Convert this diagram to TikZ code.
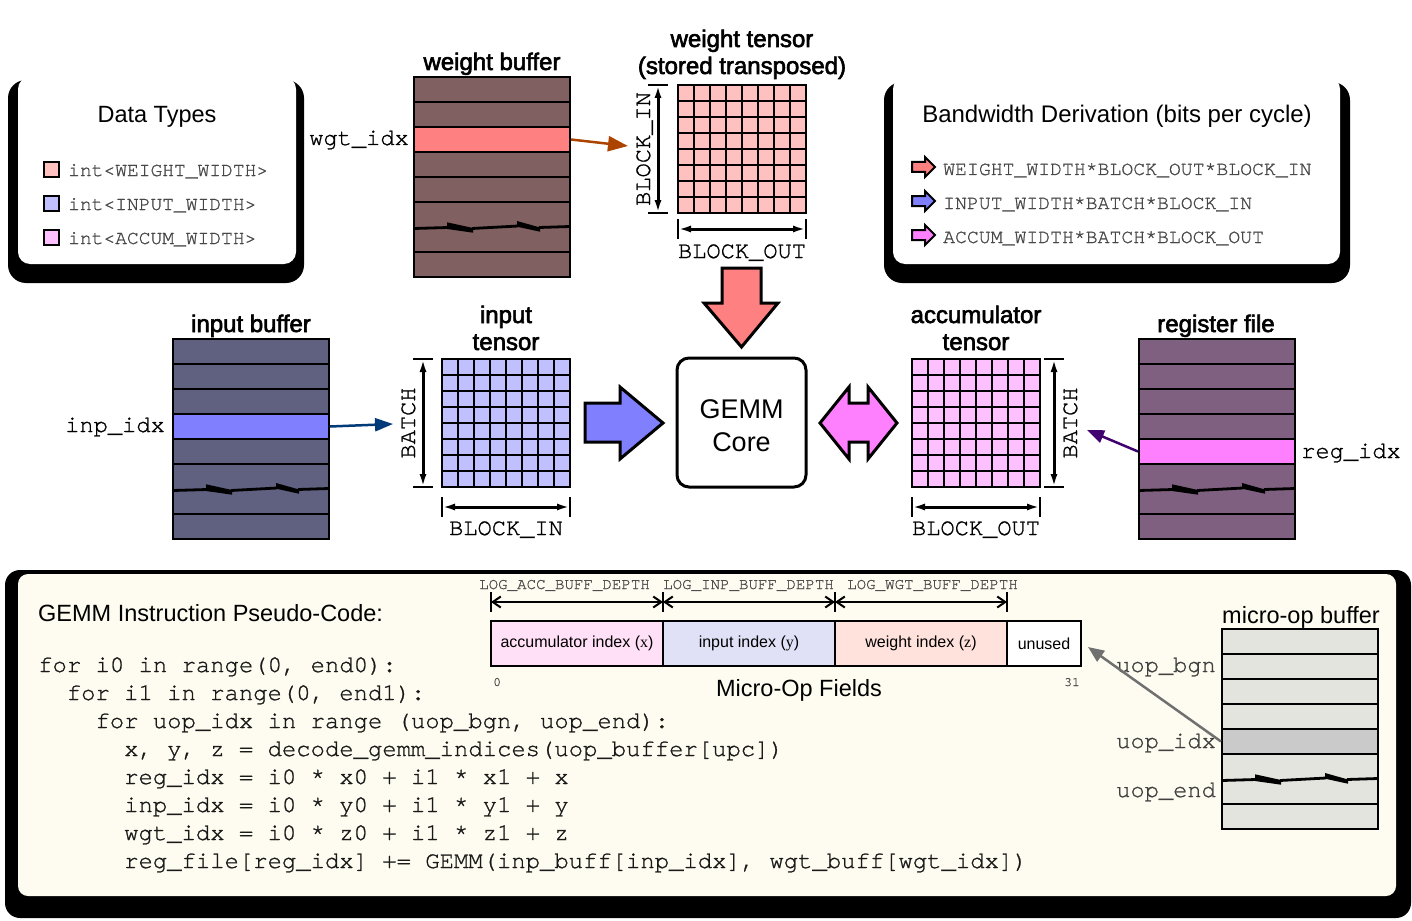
\documentclass[tikz,border=0pt]{standalone}
\usepackage{fontspec}
\setmainfont{Liberation Sans}
\newfontfamily\monofont[Ligatures=NoCommon, Kerning=Off, FakeBold=1]{TeX Gyre Cursor}
\newfontfamily\headfont[FakeBold=2.5]{Liberation Sans}
\newfontfamily\seriffont{Liberation Serif}
\usetikzlibrary{arrows.meta}

% buffer bodies and their selected rows
\definecolor{wbuf}{RGB}{128,96,96}
\definecolor{ibuf}{RGB}{96,96,128}
\definecolor{rbuf}{RGB}{128,96,128}
\definecolor{ubuf}{RGB}{228,228,222}
\definecolor{whl}{RGB}{255,128,128}
\definecolor{ihl}{RGB}{128,128,255}
\definecolor{rhl}{RGB}{255,128,255}
\definecolor{uhl}{RGB}{202,202,202}
% tensor cells
\definecolor{wcell}{RGB}{255,192,192}
\definecolor{icell}{RGB}{192,192,255}
\definecolor{acell}{RGB}{255,192,255}
% feed arrows
\definecolor{wfeed}{RGB}{172,68,0}
\definecolor{ifeed}{RGB}{0,58,120}
\definecolor{rfeed}{RGB}{64,0,112}
\definecolor{ufeed}{RGB}{112,112,112}
% panels and micro-op fields
\definecolor{cream}{RGB}{254,252,240}
\definecolor{faccf}{RGB}{255,224,246}
\definecolor{finpf}{RGB}{224,224,246}
\definecolor{fwgtf}{RGB}{255,226,220}

\tikzset{
  bufrow/.style={draw, line width=2, minimum width=156, minimum height=25, inner sep=0},
  rowline/.style={line width=2},
  bufedge/.style={line width=2.5},
  tensorbox/.style={minimum size=128, inner sep=0},
  gridline/.style={line width=2},
  dimline/.style={line width=3, {Latex[length=13pt,width=7pt]}-{Latex[length=13pt,width=7pt]}},
  dimcap/.style={line width=2},
  feed/.style={line width=2.5, -{Triangle[length=20pt,width=15pt]}},
  fatarrow/.style={draw=black, line width=3, line join=miter},
  smallarrow/.style={draw=black, line width=2, line join=miter},
  swatch/.style={draw, line width=2, minimum size=15, inner sep=0},
  boxtitle/.style={font=\fontsize{23.5}{28}\selectfont, inner sep=0},
  headlabel/.style={font=\headfont\fontsize{24}{28}\selectfont, inner sep=0, anchor=base},
  monolabel/.style={font=\monofont\fontsize{23.7}{28}\selectfont, inner sep=0},
  typeline/.style={font=\monofont\fontsize{19.6}{24}\selectfont, text=black!72, anchor=base west, inner sep=0},
  codeline/.style={font=\monofont\fontsize{23.9}{28}\selectfont, text=black!90, anchor=base west, inner sep=0},
  fieldbox/.style={draw, line width=2, minimum height=45, inner sep=0, font=\fontsize{16}{19}\selectfont},
  fieldspan/.style={line width=2, {Straight Barb[length=8pt,width=11pt]}-{Straight Barb[length=8pt,width=11pt]}},
  fieldtick/.style={line width=1.5},
  fieldname/.style={font=\monofont\fontsize{15.8}{18}\selectfont, text=black!70, anchor=base west, inner sep=0},
}

% torn-row mark across a buffer: #1 left x, #2 row boundary y
\newcommand\bufbreak[2]{%
  \begin{scope}[shift={(#1,#2)}]
    \draw[line width=2.8] (0,1.5) -- (34,0.5);
    \fill (33,-4.7) -- (59,1.0) -- (59,5.7) -- (33,2.0) -- cycle;
    \draw[line width=2.8] (58,1.5) -- (104,-1);
    \fill (103,-6.0) -- (126,0.5) -- (126,4.7) -- (103,-0.3) -- cycle;
    \draw[line width=2.8] (125,0.5) -- (156,-0.5);
  \end{scope}}

% eight-row buffer: name, left x, top y, body colour, selected row, selected colour
\newcommand\membuf[6]{%
  \fill[#4] (#2,#3) rectangle ++(156,200);
  \node[bufrow, fill=#6] (#1) at ({#2+78},{#3+25*#5+12.5}) {};
  \foreach \k in {1,2,3,4,5,7} {\draw[rowline] (#2,{#3+25*\k}) -- ++(156,0);}
  \bufbreak{#2}{#3+150}
  \draw[bufedge] (#2,#3) rectangle ++(156,200);
}

% 8x8 tensor tile: name, left x, top y, cell colour
\newcommand\tensorgrid[4]{%
  \node[tensorbox, fill=#4] (#1) at ({#2+64},{#3+64}) {};
  \foreach \k in {1,...,7} {
    \draw[gridline] ({#2+16*\k},#3) -- ++(0,128);
    \draw[gridline] (#2,{#3+16*\k}) -- ++(128,0);}
  \draw[gridline] (#2,#3) rectangle ++(128,128);
}

% legend arrow: left x, centre y, colour
\newcommand\bwarrow[3]{%
  \filldraw[smallarrow, fill=#3] (#1,#2-5) -- (#1+13,#2-5) -- (#1+13,#2-10) -- (#1+23,#2)
    -- (#1+13,#2+10) -- (#1+13,#2+5) -- (#1,#2+5) -- cycle;}

\begin{document}
\begin{tikzpicture}[x=1pt,y=-1pt]
\useasboundingbox (0,0) rectangle (1412,920);

% ---------- panels ----------
\fill[black, rounded corners=18] (8,80) rectangle (304,283);
\fill[white, rounded corners=12] (18,77) rectangle (296,264);
\fill[black, rounded corners=18] (884,82) rectangle (1350,283);
\fill[white, rounded corners=12] (893,77) rectangle (1340,264);
\fill[black, rounded corners=15] (5,570) rectangle (1411,918);
\fill[cream, rounded corners=10] (18,574) rectangle (1396,896);

% ---------- data types ----------
\node[boxtitle, anchor=base] (dtitle) at (157,123) {Data Types};
\node[swatch, fill=wcell] (swW) at (51,169.5) {};
\node[swatch, fill=icell] (swI) at (51,203.5) {};
\node[swatch, fill=acell] (swA) at (51,237.5) {};
\node[typeline] (tyW) at (68,176) {int<WEIGHT\_WIDTH>};
\node[typeline] (tyI) at (68,210) {int<INPUT\_WIDTH>};
\node[typeline] (tyA) at (68,244) {int<ACCUM\_WIDTH>};

% ---------- bandwidth ----------
\node[boxtitle, anchor=base, font=\fontsize{24}{28}\selectfont] (bwtitle) at (1117,123) {Bandwidth Derivation (bits per cycle)};
\bwarrow{912}{167}{whl}
\bwarrow{912}{201}{ihl}
\bwarrow{912}{235}{rhl}
\node[typeline, font=\monofont\fontsize{19.8}{24}\selectfont] (bwW) at (943,175) {WEIGHT\_WIDTH*BLOCK\_OUT*BLOCK\_IN};
\node[typeline, font=\monofont\fontsize{19.8}{24}\selectfont] (bwI) at (943,209) {INPUT\_WIDTH*BATCH*BLOCK\_IN};
\node[typeline, font=\monofont\fontsize{19.8}{24}\selectfont] (bwA) at (943,243) {ACCUM\_WIDTH*BATCH*BLOCK\_OUT};

% ---------- weight side ----------
\node[headlabel] (wbuflab) at (492,70) {weight buffer};
\membuf{wgtrow}{414}{77}{wbuf}{2}{whl}
\node[monolabel, anchor=base east] (wgtlab) at (409,145) {wgt\_idx};
\node[headlabel] (wtlab1) at (742,47) {weight tensor};
\node[headlabel] (wtlab2) at (742,74) {(stored transposed)};
\tensorgrid{wten}{678}{85}{wcell}
\draw[dimline] (658,85) -- (658,213);
\draw[dimcap] (648,85) -- (668,85) (648,213) -- (668,213);
\node[monolabel, anchor=base, rotate=90] (wtin) at (650,149) {BLOCK\_IN};
\draw[dimline] (678,229) -- (806,229);
\draw[dimcap] (678,219) -- (678,239) (806,219) -- (806,239);
\node[monolabel, anchor=base] (wtout) at (742,258) {BLOCK\_OUT};
\coordinate (wgttip) at (628,146);
\draw[feed, wfeed] (wgtrow.east) -- (wgttip);

% ---------- input side ----------
\node[headlabel] (ibuflab) at (251,332) {input buffer};
\membuf{inprow}{173}{339}{ibuf}{3}{ihl}
\node[monolabel, anchor=base east] (inplab) at (165,432) {inp\_idx};
\node[headlabel] (itlab1) at (506,323) {input};
\node[headlabel] (itlab2) at (506,350) {tensor};
\tensorgrid{iten}{442}{359}{icell}
\draw[dimline] (423,359) -- (423,487);
\draw[dimcap] (413,359) -- (433,359) (413,487) -- (433,487);
\node[monolabel, anchor=base, rotate=90] (itb) at (415,423) {BATCH};
\draw[dimline] (442,507) -- (570,507);
\draw[dimcap] (442,497) -- (442,517) (570,497) -- (570,517);
\node[monolabel, anchor=base] (itin) at (506,535) {BLOCK\_IN};
\coordinate (inptip) at (393,424);
\draw[feed, ifeed, -{Triangle[length=18pt,width=13pt]}] (inprow.east) -- (inptip);

% ---------- GEMM core and data flow ----------
\node[draw, line width=3, rounded corners=12, minimum width=129, minimum height=129] (core) at (741.5,422.5) {};
\node[align=center, inner sep=0, font=\fontsize{27}{33}\selectfont] (coretext) at (741.5,425.5) {GEMM\\Core};
\filldraw[fatarrow, fill=whl] (722,268) -- (761,268) -- (761,303) -- (778,303) -- (741.5,347)
  -- (704,303) -- (722,303) -- cycle;
\filldraw[fatarrow, fill=ihl] (585,403) -- (620,403) -- (620,387) -- (663,423) -- (620,459)
  -- (620,442) -- (585,442) -- cycle;
\filldraw[fatarrow, fill=rhl] (820,423) -- (849,387) -- (849,403) -- (868,403) -- (868,387)
  -- (897,423) -- (868,459) -- (868,442) -- (849,442) -- (849,459) -- cycle;

% ---------- accumulator side ----------
\node[headlabel] (atlab1) at (976,323) {accumulator};
\node[headlabel] (atlab2) at (976,350) {tensor};
\tensorgrid{aten}{912}{359}{acell}
\draw[dimline] (1054,359) -- (1054,487);
\draw[dimcap] (1044,359) -- (1064,359) (1044,487) -- (1064,487);
\node[monolabel, anchor=base, rotate=90] (atb) at (1077,423) {BATCH};
\draw[dimline] (912,507) -- (1040,507);
\draw[dimcap] (912,497) -- (912,517) (1040,497) -- (1040,517);
\node[monolabel, anchor=base] (atout) at (976,535) {BLOCK\_OUT};
\node[headlabel] (rflab) at (1216,332) {register file};
\membuf{regrow}{1139}{339}{rbuf}{4}{rhl}
\node[monolabel, anchor=base west] (reglab) at (1301,458) {reg\_idx};
\coordinate (regtip) at (1087,430);
\draw[feed, rfeed, -{Triangle[length=17pt,width=13pt]}] (regrow.west) -- (regtip);

% ---------- pseudo-code ----------
\node[boxtitle, anchor=base west] (pctitle) at (38,621) {GEMM Instruction Pseudo-Code:};
\node[codeline] (c1) at (38,672) {for i0 in range(0, end0):};
\node[codeline] (c2) at (66.6,700) {for i1 in range(0, end1):};
\node[codeline] (c3) at (95.3,728) {for uop\_idx in range (uop\_bgn, uop\_end):};
\node[codeline] (c4) at (124,756) {x, y, z = decode\_gemm\_indices(uop\_buffer[upc])};
\node[codeline] (c5) at (124,784) {reg\_idx = i0 * x0 + i1 * x1 + x};
\node[codeline] (c6) at (124,812) {inp\_idx = i0 * y0 + i1 * y1 + y};
\node[codeline] (c7) at (124,840) {wgt\_idx = i0 * z0 + i1 * z1 + z};
\node[codeline] (c8) at (124,868) {reg\_file[reg\_idx] += GEMM(inp\_buff[inp\_idx], wgt\_buff[wgt\_idx])};

% ---------- micro-op fields ----------
\node[fieldname] (dacc) at (479,589) {LOG\_ACC\_BUFF\_DEPTH};
\node[fieldname] (dinp) at (663,589) {LOG\_INP\_BUFF\_DEPTH};
\node[fieldname] (dwgt) at (847,589) {LOG\_WGT\_BUFF\_DEPTH};
\foreach \xx in {491,663,835,1007} {\draw[fieldtick] (\xx,592) -- (\xx,612);}
\draw[fieldspan] (491,602) -- (663,602);
\draw[fieldspan] (663,602) -- (835,602);
\draw[fieldspan] (835,602) -- (1007,602);
\node[fieldbox, fill=faccf, minimum width=172] (facc) at (577,643.5) {accumulator index ({\seriffont x})};
\node[fieldbox, fill=finpf, minimum width=172] (finp) at (749,643.5) {input index ({\seriffont y})};
\node[fieldbox, fill=fwgtf, minimum width=172] (fwgt) at (921,643.5) {weight index ({\seriffont z})};
\node[fieldbox, fill=white, minimum width=74] (fnone) at (1044,643.5) {unused};
\node[fieldname, font=\monofont\fontsize{13}{15}\selectfont] (bit0) at (493,686) {0};
\node[fieldname, font=\monofont\fontsize{13}{15}\selectfont] (bit31) at (1064,686) {31};
\node[boxtitle, anchor=base] (mftitle) at (799,696) {Micro-Op Fields};

% ---------- micro-op buffer ----------
\node[boxtitle, anchor=base] (ublab) at (1301,623) {micro-op buffer};
\membuf{uoprow}{1222}{629}{ubuf}{4}{uhl}
\node[monolabel, anchor=base east, text=black!75] (ubgn) at (1216,672) {uop\_bgn};
\node[monolabel, anchor=base east, text=black!75] (uidx) at (1216,748) {uop\_idx};
\node[monolabel, anchor=base east, text=black!75] (uend) at (1216,797) {uop\_end};
\coordinate (uoptip) at (1088,647);
\draw[feed, ufeed, -{Triangle[length=16pt,width=13pt]}] (uoprow.west) -- (uoptip);

\end{tikzpicture}
\end{document}
